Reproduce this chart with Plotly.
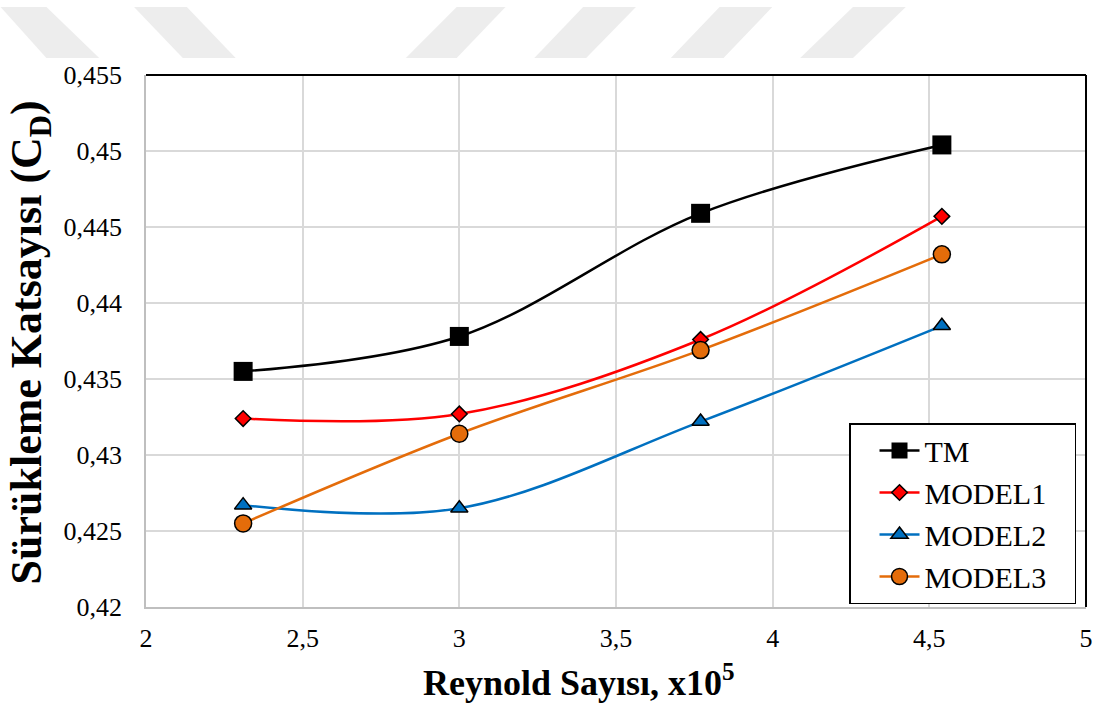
import plotly.graph_objects as go

# Reynolds number (x10^5) and drag coefficient for each turbulence model
reynolds = [2.31, 3.0, 3.77, 4.54]
tm = [0.4355, 0.4378, 0.4459, 0.4504]
model1 = [0.4324, 0.4327, 0.4376, 0.4457]
model2 = [0.4267, 0.4265, 0.4322, 0.4385]
model3 = [0.4255, 0.4314, 0.4369, 0.4432]

series_names = ["TM", "MODEL1", "MODEL2", "MODEL3"]
x_ticks = [2, 2.5, 3, 3.5, 4, 4.5, 5]
y_ticks = [0.42, 0.425, 0.43, 0.435, 0.44, 0.445, 0.45, 0.455]

W, H = 1105, 711
ML, MR, MT, MB = 146, 15, 75, 104
PW, PH = W - ML - MR, H - MT - MB

FONT = "Liberation Serif"
PAD = "\u00a0\u00a0\u00a0"  # widens the legend box on the right

styles = [
    dict(color="#000000", symbol="square", size=19, fill="#000000", lw=0),
    dict(color="#FF0000", symbol="diamond", size=12, fill="#FF0000", lw=1.5),
    dict(color="#0070C0", symbol="triangle-up", size=15, fill="#0070C0", lw=1.5),
    dict(color="#E46C0A", symbol="circle", size=17, fill="#E46C0A", lw=1.5),
]

fig = go.Figure()
for name, ys, st in zip(series_names, [tm, model1, model2, model3], styles):
    fig.add_trace(go.Scatter(
        x=reynolds, y=ys, name=name + PAD, mode="lines+markers",
        line=dict(color=st["color"], width=2.5, shape="spline", smoothing=1.0),
        marker=dict(symbol=st["symbol"], size=st["size"], color=st["fill"],
                    line=dict(color="#000000", width=st["lw"])),
    ))


def px(x, y):
    """Convert page pixel coordinates into paper coordinates."""
    return (x - ML) / PW, (H - MB - y) / PH


# faint diagonal bands along the top edge of the page
bands = [
    [(0, 7), (46, 7), (99, 58), (46, 58)],
    [(134, 7), (187, 7), (236, 58), (183, 58)],
    [(458, 7), (507, 7), (458, 58), (407, 58)],
    [(585, 7), (638, 7), (588, 58), (536, 58)],
    [(722, 7), (775, 7), (726, 58), (673, 58)],
    [(856, 7), (909, 7), (856, 58), (803, 58)],
]
shapes = []
for quad in bands:
    pts = [px(a, b) for a, b in quad]
    path = "M " + " L ".join(f"{a:.5f},{b:.5f}" for a, b in pts) + " Z"
    shapes.append(dict(type="path", xref="paper", yref="paper", path=path,
                       fillcolor="#EDEDED", line=dict(width=0), layer="below"))

# dark frame on the top and right sides of the plot area
shapes.append(dict(type="line", xref="paper", yref="paper", x0=0, x1=1, y0=1, y1=1,
                   line=dict(color="#000000", width=2)))
shapes.append(dict(type="line", xref="paper", yref="paper", x0=1, x1=1, y0=0, y1=1,
                   line=dict(color="#000000", width=2)))

fig.update_layout(
    width=W, height=H,
    margin=dict(l=ML, r=MR, t=MT, b=MB),
    paper_bgcolor="white", plot_bgcolor="white",
    separators=", ",
    font=dict(family=FONT, color="#000000"),
    showlegend=True,
    legend=dict(
        x=px(852, 0)[0], y=px(0, 423)[1], xanchor="left", yanchor="top",
        bgcolor="white", bordercolor="#000000", borderwidth=1.5,
        font=dict(family=FONT, size=30, color="#000000"),
        tracegroupgap=0, itemwidth=40, indentation=24,
    ),
    shapes=shapes,
    annotations=[
        dict(text="<b>Reynold Sayısı, x10<sup>5</sup></b>", xref="paper", yref="paper",
             x=px(581, 0)[0], y=px(0, 680)[1], xanchor="center", yanchor="middle",
             showarrow=False, font=dict(family=FONT, size=36, color="#000000")),
        dict(text="<b>Sürükleme Katsayısı (C<sub>D</sub>)</b>", xref="paper", yref="paper",
             x=px(29, 0)[0], y=px(0, 342)[1], xanchor="center", yanchor="middle",
             textangle=-90, showarrow=False,
             font=dict(family=FONT, size=44, color="#000000")),
    ],
)

fig.update_xaxes(
    range=[2, 5.0000001], tickmode="array", tickvals=x_ticks,
    showgrid=True, gridcolor="#D9D9D9", gridwidth=1.5,
    showline=True, linecolor="#BFBFBF", linewidth=1.5,
    zeroline=False, ticks="", ticklabelstandoff=7,
    tickfont=dict(family=FONT, size=26, color="#000000"),
)
fig.update_yaxes(
    range=[0.42, 0.4550001], tickmode="array", tickvals=y_ticks,
    showgrid=True, gridcolor="#D9D9D9", gridwidth=1.5,
    showline=True, linecolor="#BFBFBF", linewidth=1.5,
    zeroline=False, ticks="", ticklabelstandoff=17,
    tickfont=dict(family=FONT, size=26, color="#000000"),
)

fig.write_html("out.html")
